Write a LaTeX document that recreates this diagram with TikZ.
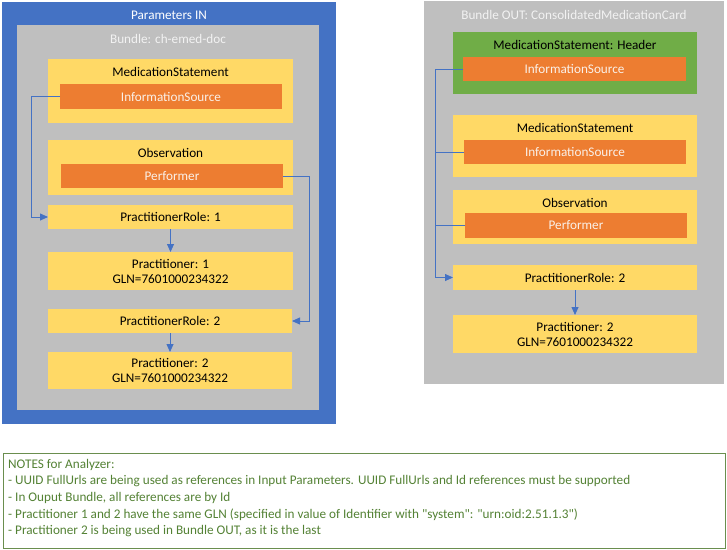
\documentclass[tikz,border=0pt]{standalone}
\usepackage{fontspec}
\setmainfont{Carlito}[Ligatures=TeXOff]
\usetikzlibrary{arrows.meta}
\definecolor{pblue}{RGB}{68,114,196}
\definecolor{pgray}{RGB}{191,191,191}
\definecolor{pyellow}{RGB}{255,217,102}
\definecolor{porange}{RGB}{237,125,49}
\definecolor{pgreen}{RGB}{112,173,71}
\definecolor{ngreen}{RGB}{84,130,53}
\definecolor{nborder}{RGB}{106,142,78}
\definecolor{ltext}{RGB}{250,240,232}
\newcommand{\Rbox}[7]{\node[area,#6,minimum width={(#4-#2)*1pt},minimum height={(#5-#3)*1pt}] (#1) at (#2,#3) {#7};}
\begin{document}
\begin{tikzpicture}[x=1pt,y=-1pt,font=\fontsize{13.2}{15}\selectfont,
  area/.style={anchor=north west,inner sep=0pt,outer sep=0pt,draw=none},
  ybox/.style={fill=pyellow,text=black,align=center},
  obox/.style={fill=porange,text=ltext},
  conn/.style={draw=pblue,line width=0.8pt,-{Triangle[length=8pt,width=7pt]}},
  connline/.style={draw=pblue,line width=0.8pt},
  lbl/.style={inner sep=0pt,text=black},
  ttl/.style={inner sep=0pt,text=white}]
\useasboundingbox (0,0) rectangle (727,549);
% ---------- Left: Parameters IN ----------
\Rbox{pin}{2}{2}{336}{424}{fill=pblue}{}
\node[ttl] (pinT) at (169,15) {Parameters IN};
\Rbox{bin}{17}{25}{319}{410}{fill=pgray}{}
\node[ttl,text=white!95!black] (binT) at (168,39) {Bundle: ch-emed-doc};
\Rbox{ms1}{48}{59}{293}{123}{ybox}{}
\node[lbl] (ms1T) at (170.5,72) {MedicationStatement};
\Rbox{is1}{60}{84}{282}{109}{obox}{InformationSource}
\Rbox{ob1}{48}{140}{293}{195}{ybox}{}
\node[lbl] (ob1T) at (170.5,153) {Observation};
\Rbox{pf1}{61}{164}{283}{188}{obox}{Performer}
\Rbox{pr1}{48}{205}{293}{229}{ybox}{PractitionerRole: 1}
\Rbox{p1}{48}{252}{293}{290}{ybox}{Practitioner: 1\\GLN=7601000234322}
\Rbox{pr2}{48}{309}{292}{333}{ybox}{PractitionerRole: 2}
\Rbox{p2}{48}{352}{292}{389}{ybox}{Practitioner: 2\\GLN=7601000234322}
\draw[conn] (is1.west) -- ++(-29,0) |- (pr1.west);
\draw[conn] (pf1.east) -- ++(26,0) |- (pr2.east);
\draw[conn] (pr1.south) -- (p1.north);
\draw[conn] (pr2.south) -- (p2.north);
% ---------- Right: Bundle OUT ----------
\Rbox{bout}{424}{1}{724}{384}{fill=pgray}{}
\node[ttl,text=white!95!black] (boutT) at (574,15) {Bundle OUT: ConsolidatedMedicationCard};
\Rbox{hdr}{453}{32}{697}{94}{fill=pgreen}{}
\node[lbl] (hdrT) at (575,45) {MedicationStatement: Header};
\Rbox{is2}{463}{57}{686}{81}{obox}{InformationSource}
\Rbox{ms2}{453}{115}{697}{177}{ybox}{}
\node[lbl] (ms2T) at (575,128) {MedicationStatement};
\Rbox{is3}{464}{140}{686}{164}{obox}{InformationSource}
\Rbox{ob2}{453}{190}{697}{244}{ybox}{}
\node[lbl] (ob2T) at (575,203) {Observation};
\Rbox{pf2}{465}{213}{687}{238}{obox}{Performer}
\Rbox{pr3}{453}{265}{697}{290}{ybox}{PractitionerRole: 2}
\Rbox{p3}{453}{315}{697}{353}{ybox}{Practitioner: 2\\GLN=7601000234322}
\draw[conn] (is2.west) -- ++(-28,0) |- (pr3.west);
\draw[connline] (is3.west) -- ++(-29,0);
\draw[connline] (pf2.west) -- ++(-30,0);
\draw[conn] (pr3.south) -- (p3.north);
% ---------- Notes ----------
\Rbox{notes}{3}{453}{725}{548}{draw=nborder,line width=0.9pt,fill=white}{}
\node[anchor=north west,inner sep=0pt,text=ngreen,align=left,font=\fontsize{13.2}{16.6}\selectfont] (notesT) at (8,459) {NOTES for Analyzer:\\
- UUID FullUrls are being used as references in Input Parameters. UUID FullUrls and Id references must be supported\\
- In Ouput Bundle, all references are by Id\\
- Practitioner 1 and 2 have the same GLN (specified in value of Identifier with "system": "urn:oid:2.51.1.3")\\
- Practitioner 2 is being used in Bundle OUT, as it is the last};
\end{tikzpicture}
\end{document}
